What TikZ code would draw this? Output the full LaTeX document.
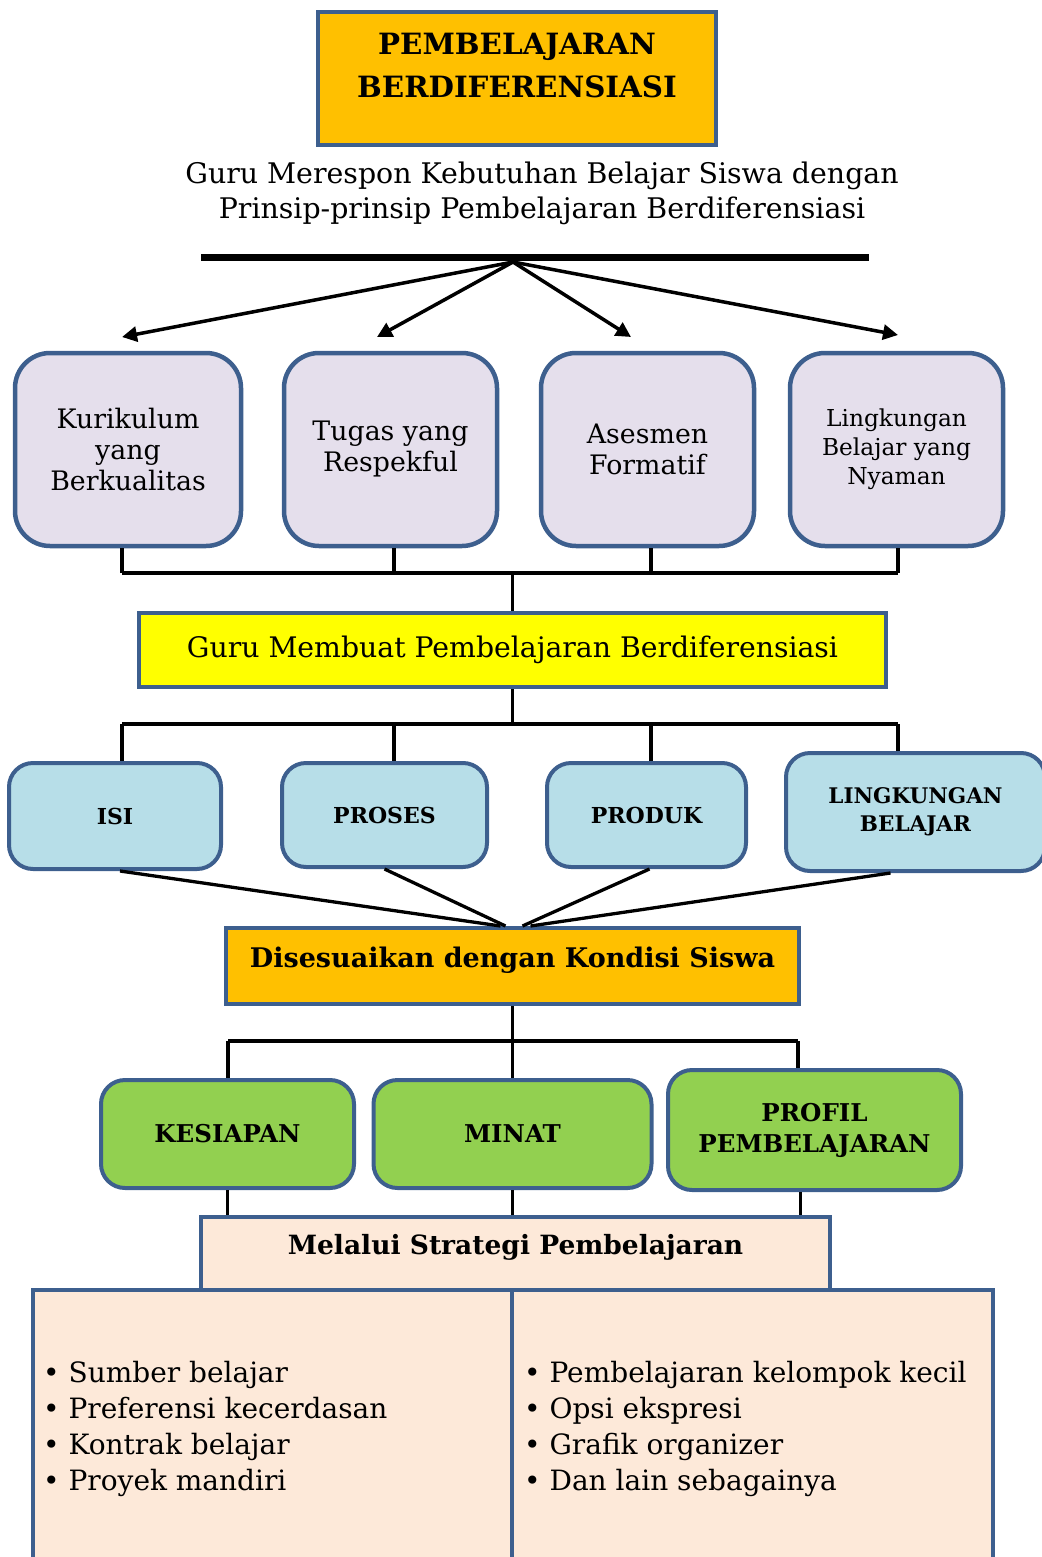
\documentclass[tikz,border=0pt]{standalone}
\usepackage{fontspec}
\setmainfont{DejaVu Serif}
\usetikzlibrary{arrows.meta}
\definecolor{bd}{HTML}{3D5F8E}
\definecolor{orng}{HTML}{FFC000}
\definecolor{yel}{HTML}{FFFF00}
\definecolor{purp}{HTML}{E5DFEC}
\definecolor{lblue}{HTML}{B7DEE8}
\definecolor{grn}{HTML}{92D050}
\definecolor{peach}{HTML}{FDE9D9}
\begin{document}
\begin{tikzpicture}[x=1pt,y=-1pt,
  box/.style={draw=bd,line width=4pt,align=center,inner sep=0pt},
  pbox/.style={box,fill=purp,rounded corners=35pt,line width=4.5pt,minimum height=193pt,
     font=\fontsize{26.8}{31}\selectfont},
  bbox/.style={box,fill=lblue,rounded corners=24pt,font=\bfseries\fontsize{22}{28}\selectfont},
  gbox/.style={box,fill=grn,rounded corners=24pt,font=\bfseries\fontsize{24.5}{31}\selectfont},
  conn/.style={line width=3.3pt,black},
  arr/.style={line width=3.5pt,black,-{Triangle[length=15pt,width=15pt]}},
]
\useasboundingbox (0,0) rectangle (1041,1557);

% title
\node[box,fill=orng,minimum width=398pt,minimum height=133pt] (title) at (517,78.5) {};
\node[align=center,inner sep=0pt,font=\bfseries\fontsize{29.3}{43}\selectfont] (titlet) at (517,66)
  {PEMBELAJARAN\\BERDIFERENSIASI};
\node[align=center,font=\fontsize{28.4}{35}\selectfont] (sub) at (542,193)
  {Guru Merespon Kebutuhan Belajar Siswa dengan\\Prinsip-prinsip Pembelajaran Berdiferensiasi};

% bar and arrows
\coordinate (barL) at (201,257);
\coordinate (barR) at (869,257);
\draw[line width=7pt] (barL) -- (barR);
\coordinate (hub) at (513,262);
\coordinate (a1) at (122,337);
\coordinate (a2) at (377,337);
\coordinate (a3) at (631,337);
\coordinate (a4) at (898,335);
\foreach \t in {a1,a2,a3,a4} \draw[arr] (hub) -- (\t);

% purple boxes
\node[pbox,minimum width=226pt] (k1) at (128,449.5) {Kurikulum\\yang\\Berkualitas};
\node[pbox,minimum width=213pt] (k2) at (390.5,449.5) {Tugas yang\\Respekful};
\node[pbox,minimum width=213pt] (k3) at (647.5,449.5) {Asesmen\\Formatif};
\node[pbox,minimum width=213pt,font=\fontsize{23.3}{29}\selectfont] (k4) at (896.5,449.5)
  {Lingkungan\\Belajar yang\\Nyaman};

% bus 1
\coordinate (bus1) at (512.5,573);
\coordinate (p1) at (122,573);
\coordinate (p2) at (394,573);
\coordinate (p3) at (651,573);
\coordinate (p4) at (898,573);
\draw[conn] (p1) -- (p4);
\draw[conn] (p1) -- (p1 |- k1.south);
\draw[conn] (p2) -- (p2 |- k2.south);
\draw[conn] (p3) -- (p3 |- k3.south);
\draw[conn] (p4) -- (p4 |- k4.south);

% yellow
\node[box,fill=yel,minimum width=747pt,minimum height=74pt,
  font=\fontsize{28.3}{30}\selectfont] (gm) at (512.5,650)
  {Guru Membuat Pembelajaran Berdiferensiasi};
\draw[conn] (bus1) -- (gm.north);

% bus 2
\coordinate (bus2) at (512.5,724);
\coordinate (q1) at (122,724);
\coordinate (q2) at (394,724);
\coordinate (q3) at (651,724);
\coordinate (q4) at (898,724);
\draw[conn] (gm.south) -- (bus2);
\draw[conn] (q1) -- (q4);

% blue boxes
\node[bbox,minimum width=212pt,minimum height=106pt] (isi) at (115,816) {ISI};
\node[bbox,minimum width=205pt,minimum height=104pt] (pro) at (384.5,815) {PROSES};
\node[bbox,minimum width=199pt,minimum height=104pt] (prd) at (646.5,815) {PRODUK};
\node[bbox,minimum width=259pt,minimum height=118pt,font=\bfseries\fontsize{21.5}{28}\selectfont] (lb) at (915.5,812) {LINGKUNGAN\\BELAJAR};
\draw[conn] (q1) -- (q1 |- isi.north);
\draw[conn] (q2) -- (q2 |- pro.north);
\draw[conn] (q3) -- (q3 |- prd.north);
\draw[conn] (q4) -- (q4 |- lb.north);

% orange 2
\node[box,fill=orng,minimum width=573pt,minimum height=76pt] (dk) at (512.5,966) {};
\node[inner sep=0pt,font=\bfseries\fontsize{27}{30}\selectfont] (dkt) at (512.5,960)
  {Disesuaikan dengan Kondisi Siswa};
\draw[conn] ([xshift=5pt]isi.south) -- ([xshift=-12pt]dk.north);
\draw[conn] (pro.south) -- ([xshift=-7pt]dk.north);
\draw[conn] ([xshift=3pt]prd.south) -- ([xshift=10pt]dk.north);
\draw[conn] ([xshift=-25pt]lb.south) -- ([xshift=18pt]dk.north);

% bus 3
\coordinate (bus3) at (512.5,1041);
\coordinate (r1) at (228,1041);
\coordinate (r3) at (798,1041);
\draw[conn] (dk.south) -- (bus3);
\draw[conn] (r1) -- (r3);

% green boxes
\node[gbox,minimum width=253pt,minimum height=108pt] (ks) at (227.5,1134) {KESIAPAN};
\node[gbox,minimum width=278pt,minimum height=108pt] (mn) at (512.5,1134) {MINAT};
\node[gbox,minimum width=293pt,minimum height=120pt] (pf) at (814.5,1130) {PROFIL\\PEMBELAJARAN};
\draw[conn] (r1) -- (r1 |- ks.north);
\draw[conn] (bus3) -- (mn.north);
\draw[conn] (r3) -- (r3 |- pf.north);

% strategy
\node[box,fill=peach,minimum width=629pt,minimum height=80pt] (mel) at (515.5,1257) {};
\node[inner sep=0pt,font=\bfseries\fontsize{26.5}{28}\selectfont] (melt) at (515.5,1247) {Melalui Strategi Pembelajaran};
\draw[conn] (ks.south) -- (ks.south |- mel.north);
\draw[conn] (mn.south) -- (mn.south |- mel.north);
\draw[conn] ([xshift=-14pt]pf.south) -- ([xshift=-14pt]pf.south |- mel.north);

\node[box,fill=peach,line width=4.5pt,minimum width=479pt,minimum height=285pt] (lft) at (272.5,1432.5) {};
\node[box,fill=peach,line width=4.5pt,minimum width=481pt,minimum height=285pt] (rgt) at (752.5,1432.5) {};
\node[anchor=west,align=left,inner sep=0pt,font=\fontsize{28}{36.3}\selectfont] (lt) at (43,1429)
  {\textbullet\ Sumber belajar\\\textbullet\ Preferensi kecerdasan\\\textbullet\ Kontrak belajar\\\textbullet\ Proyek mandiri};
\node[anchor=west,align=left,inner sep=0pt,font=\fontsize{28}{36.3}\selectfont] (rt) at (524,1429)
  {\textbullet\ Pembelajaran kelompok kecil\\\textbullet\ Opsi ekspresi\\\textbullet\ Grafik organizer\\\textbullet\ Dan lain sebagainya};
\end{tikzpicture}
\end{document}
